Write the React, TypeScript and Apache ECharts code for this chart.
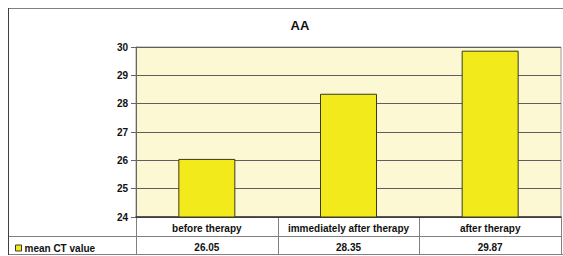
import React, { useEffect, useRef } from "react";
import * as echarts from "echarts";

const title = "AA";
const categories = ["before therapy", "immediately after therapy", "after therapy"];
const seriesName = "mean CT value";
const values = [26.05, 28.35, 29.87];
const yTicks = { min: 24, max: 30, interval: 1 };

const FONT = "'Liberation Sans', Arial, sans-serif";

export default function App() {
  const ref = useRef<HTMLDivElement>(null);
  useEffect(() => {
    const chart = echarts.init(ref.current!, null, { renderer: "svg" });
    const L = 136, R = 561, T = 47, B = 217;
    const colW = (R - L) / categories.length;
    const lineStyle = { stroke: "#808080", lineWidth: 1 };
    const graphics: any[] = [
      { type: "rect", shape: { x: 8.5, y: 8.5, width: 570, height: 246 }, style: { fill: "none", stroke: "#808080", lineWidth: 1 }, silent: true },
      { type: "line", shape: { x1: 8, y1: 236.5, x2: R, y2: 236.5 }, style: lineStyle },
      { type: "line", shape: { x1: 8, y1: 254.5, x2: R, y2: 254.5 }, style: lineStyle },
      { type: "line", shape: { x1: 8.5, y1: 8, x2: 8.5, y2: 255 }, style: { stroke: "#404040", lineWidth: 1 } },
    ];
    for (let i = 0; i <= categories.length; i++) {
      const x = Math.round(L + i * colW) + 0.5;
      graphics.push({ type: "line", shape: { x1: x, y1: B, x2: x, y2: 255 }, style: lineStyle });
    }
    chart.setOption({
      animation: false,
      title: {
        text: title,
        left: 295,
        top: 14,
        textAlign: "center",
        textStyle: { fontFamily: FONT, fontSize: 13, fontWeight: "bold", color: "#111" },
      },
      legend: {
        data: [seriesName],
        left: 10,
        top: 238,
        itemWidth: 6,
        itemHeight: 6,
        icon: "rect",
        itemStyle: { color: "#F2EA1B", borderColor: "#3a3a20", borderWidth: 1 },
        textStyle: { fontFamily: FONT, fontSize: 10, fontWeight: "bold", color: "#111", padding: [0, 0, 0, -2] },
      },
      grid: {
        left: L,
        right: 563 - R,
        top: T,
        bottom: 256 - B,
        show: true,
        backgroundColor: "#FBF8D3",
        borderColor: "#9a9a9a",
        borderWidth: 1,
      },
      xAxis: [
        {
          type: "category",
          data: categories,
          axisLine: { show: true, lineStyle: { color: "#333", width: 1.5 } },
          axisTick: { show: false },
          axisLabel: { interval: 0, margin: 6, fontFamily: FONT, fontSize: 10, fontWeight: "bold", color: "#111" },
        },
        {
          type: "category",
          data: categories,
          position: "bottom",
          axisLine: { show: false },
          axisTick: { show: false },
          axisLabel: {
            interval: 0,
            margin: 25,
            fontFamily: FONT,
            fontSize: 10,
            fontWeight: "bold",
            color: "#111",
            formatter: (_v: string, i: number) => values[i].toFixed(2),
          },
        },
      ],
      yAxis: {
        type: "value",
        min: yTicks.min,
        max: yTicks.max,
        interval: yTicks.interval,
        axisLine: { show: true, lineStyle: { color: "#666", width: 1 } },
        axisTick: { show: true, length: 5, lineStyle: { color: "#666" } },
        axisLabel: { margin: 8, fontFamily: FONT, fontSize: 10, fontWeight: "bold", color: "#111" },
        splitLine: { show: true, lineStyle: { color: "#5f5f5f", width: 1 } },
      },
      series: [
        {
          name: seriesName,
          type: "bar",
          data: values,
          barWidth: 57,
          itemStyle: { color: "#F2EA1B", borderColor: "#3a3a20", borderWidth: 1 },
        },
      ],
      graphic: graphics,
    });
    return () => chart.dispose();
  }, []);
  return <div ref={ref} style={{ width: 563, height: 256, position: "absolute", left: 0, top: 0 }} />;
}
